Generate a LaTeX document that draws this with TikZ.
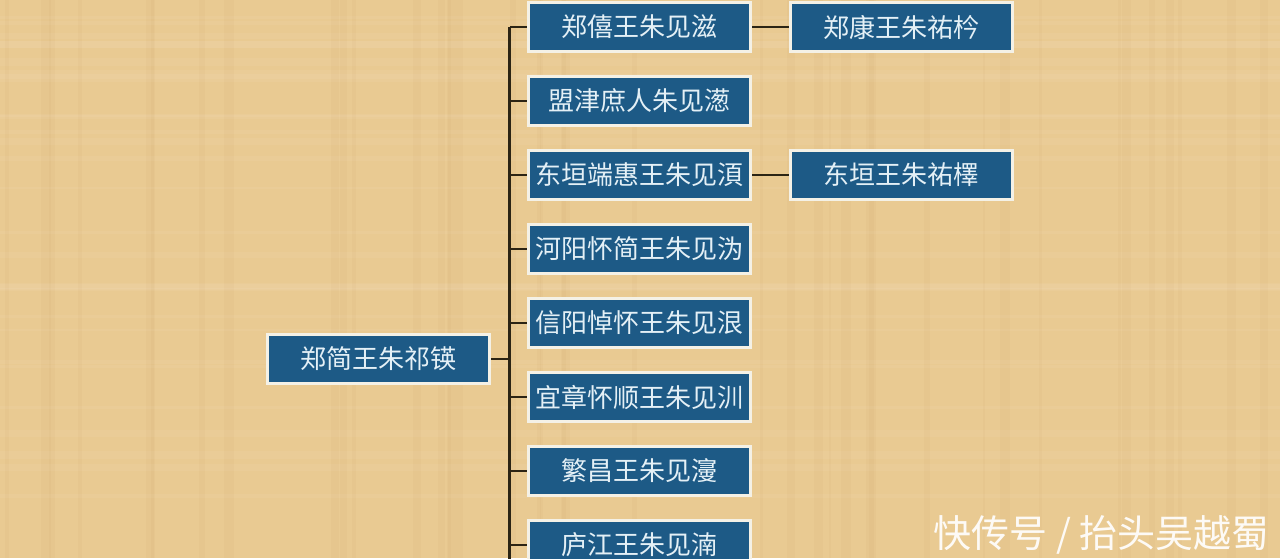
\documentclass[tikz,border=0pt]{standalone}
\usepackage{fontspec}
\newfontfamily\cjk{Noto Sans CJK SC}
\newfontfamily\cjkm{Noto Sans CJK SC Medium}
\definecolor{bgcol}{HTML}{E9CA92}
\definecolor{streak}{HTML}{C9A468}
\definecolor{boxfill}{HTML}{1D5A86}
\definecolor{boxline}{HTML}{F4F1E6}
\definecolor{boxtext}{HTML}{E4F0F6}
\definecolor{linecol}{HTML}{2B2414}
\begin{document}
\begin{tikzpicture}[x=0.75pt,y=-0.75pt,
  box/.style={draw=boxline, line width=2.2pt, fill=boxfill, text=boxtext,
    minimum width=167pt, minimum height=36.5pt, inner sep=0pt,
    font=\cjk\fontsize{19.5}{22}\selectfont},
  conn/.style={draw=linecol, line width=1.6pt}]
\useasboundingbox (0,0) rectangle (1280,558);
\fill[bgcol] (0,0) rectangle (1280,558);
% faint parchment texture
\pgfmathsetseed{7}
\foreach \i in {1,...,40}{
  \pgfmathsetmacro{\xx}{rnd*1280}
  \pgfmathsetmacro{\ww}{2+rnd*8}
  \fill[streak, opacity=0.09] (\xx,0) rectangle ++(\ww,558);
}
\foreach \i in {1,...,30}{
  \pgfmathsetmacro{\yy}{rnd*558}
  \pgfmathsetmacro{\hh}{2+rnd*6}
  \fill[white, opacity=0.05] (0,\yy) rectangle ++(1280,\hh);
}
% nodes
\node[box] (root) at (378.5,359) {郑简王朱祁锳};
\node[box] (c1) at (639.5,27) {郑僖王朱见滋};
\node[box] (c2) at (639.5,101) {盟津庶人朱见濍};
\node[box] (c3) at (639.5,175) {东垣端惠王朱见湏};
\node[box] (c4) at (639.5,249) {河阳怀简王朱见沩};
\node[box] (c5) at (639.5,323) {信阳悼怀王朱见泿};
\node[box] (c6) at (639.5,397) {宜章怀顺王朱见汌};
\node[box] (c7) at (639.5,471) {繁昌王朱见濅};
\node[box] (c8) at (639.5,545) {庐江王朱见湳};
\node[box] (g1) at (901.5,27) {郑康王朱祐枔};
\node[box] (g3) at (901.5,175) {东垣王朱祐檡};
% trunk
\coordinate (trunktop) at (509.5,27);
\coordinate (trunkbot) at (509.5,560);
\draw[conn] (trunktop) -- (trunkbot);
\draw[conn] (root.east) -- (root.east -| trunktop);
\foreach \c in {c1,c2,c3,c4,c5,c6,c7,c8}{
  \draw[conn] (\c.west) -- (\c.west -| trunktop);
}
\draw[conn] (c1.east) -- (g1.west);
\draw[conn] (c3.east) -- (g3.west);
% watermark
\node[text=white, opacity=0.92, font=\cjk\fontsize{28.5}{32}\selectfont, anchor=east, inner sep=0pt] (wm) at (1270,535) {快传号 / 抬头吴越蜀};
\end{tikzpicture}
\end{document}
